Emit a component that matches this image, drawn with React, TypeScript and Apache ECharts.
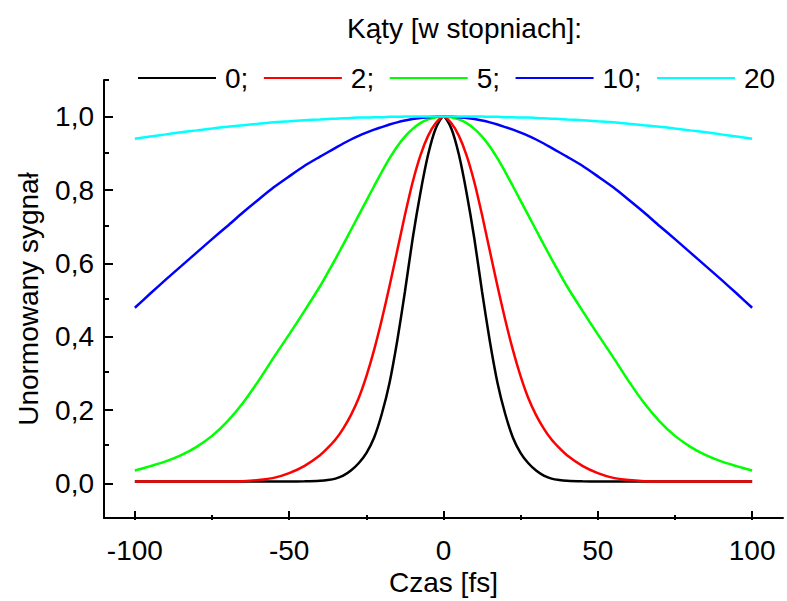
import React, { useEffect, useRef } from "react";
import * as echarts from "echarts";

const times = [-100, -95, -90, -85, -80, -75, -70, -65, -60, -55, -50, -45,
  -40, -37.5, -35, -32.5, -30, -27.5, -25, -22.5, -20, -17.5, -15, -12.5, -10, -7.5, -5, -2.5, 0,
  2.5, 5, 7.5, 10, 12.5, 15, 17.5, 20, 22.5, 25, 27.5, 30, 32.5, 35, 37.5, 40,
  45, 50, 55, 60, 65, 70, 75, 80, 85, 90, 95, 100];

const angle0 = [0, 0, 0, 0, 0, 0, 0, 0, 0, 0, 0, 0.0005,
  0.002, 0.004, 0.008, 0.016, 0.03, 0.05, 0.078, 0.12, 0.185, 0.27, 0.385, 0.52, 0.665, 0.79, 0.895, 0.968, 1,
  0.968, 0.895, 0.79, 0.665, 0.52, 0.385, 0.27, 0.185, 0.12, 0.078, 0.05, 0.03, 0.016, 0.008, 0.004, 0.002,
  0.0005, 0, 0, 0, 0, 0, 0, 0, 0, 0, 0, 0];

const angle2 = [0, 0, 0, 0, 0, 0, 0, 0.001, 0.004, 0.01, 0.023, 0.043,
  0.072, 0.092, 0.115, 0.145, 0.182, 0.228, 0.288, 0.36, 0.443, 0.535, 0.632, 0.73, 0.82, 0.893, 0.947, 0.982, 1,
  0.982, 0.947, 0.893, 0.82, 0.73, 0.632, 0.535, 0.443, 0.36, 0.288, 0.228, 0.182, 0.145, 0.115, 0.092, 0.072,
  0.043, 0.023, 0.01, 0.004, 0.001, 0, 0, 0, 0, 0, 0, 0];

const angle5 = [0.03, 0.042, 0.055, 0.072, 0.095, 0.125, 0.165, 0.215, 0.275, 0.34, 0.403, 0.468,
  0.535, 0.572, 0.61, 0.649, 0.689, 0.729, 0.769, 0.809, 0.848, 0.885, 0.918, 0.945, 0.966, 0.982, 0.992, 0.998, 1,
  0.998, 0.992, 0.982, 0.966, 0.945, 0.918, 0.885, 0.848, 0.809, 0.769, 0.729, 0.689, 0.649, 0.61, 0.572, 0.535,
  0.468, 0.403, 0.34, 0.275, 0.215, 0.165, 0.125, 0.095, 0.072, 0.055, 0.042, 0.03];

const angle10 = [0.476, 0.515, 0.553, 0.59, 0.627, 0.664, 0.7, 0.737, 0.772, 0.806, 0.836, 0.865,
  0.89, 0.902, 0.914, 0.926, 0.937, 0.947, 0.956, 0.964, 0.971, 0.978, 0.984, 0.989, 0.993, 0.996, 0.998, 1, 1,
  1, 0.998, 0.996, 0.993, 0.989, 0.984, 0.978, 0.971, 0.964, 0.956, 0.947, 0.937, 0.926, 0.914, 0.902, 0.89,
  0.865, 0.836, 0.806, 0.772, 0.737, 0.7, 0.664, 0.627, 0.59, 0.553, 0.515, 0.476];

const angle20 = [0.939, 0.945, 0.951, 0.957, 0.962, 0.967, 0.972, 0.976, 0.98, 0.984, 0.987, 0.99,
  0.992, 0.993, 0.994, 0.995, 0.996, 0.997, 0.997, 0.998, 0.998, 0.999, 0.999, 1, 1, 1, 1, 1, 1,
  1, 1, 1, 1, 1, 0.999, 0.999, 0.998, 0.998, 0.997, 0.997, 0.996, 0.995, 0.994, 0.993, 0.992,
  0.99, 0.987, 0.984, 0.98, 0.976, 0.972, 0.967, 0.962, 0.957, 0.951, 0.945, 0.939];

const seriesNames = ["0", "2", "5", "10", "20"];
const seriesValues = [angle0, angle2, angle5, angle10, angle20];
const seriesColors = ["#000000", "#ff0000", "#00ff00", "#0000ff", "#00ffff"];

const xTitle = "Czas [fs]";
const yTitle = "Unormowany sygnał";
const legendTitle = "Kąty [w stopniach]:";

const FONT = "'Liberation Sans', Arial, Helvetica, sans-serif";

export default function App() {
  const ref = useRef<HTMLDivElement>(null);

  useEffect(() => {
    if (!ref.current) return;
    const chart = echarts.init(ref.current, null, { renderer: "svg" });

    const L = 104, R = 4, T = 80, B = 81;
    const W = 787 - L - R;
    const Hh = 601 - T - B;
    const dx = (W * 10) / 220;
    const dy = (Hh * 0.1) / 1.2;

    const black = "#000";
    const fs = 28;

    const option: any = {
      animation: false,
      backgroundColor: "#fff",
      textStyle: { fontFamily: FONT },
      title: {
        text: legendTitle,
        left: 347,
        top: 14,
        padding: 0,
        textStyle: { fontFamily: FONT, fontSize: fs, fontWeight: "normal", color: black },
      },
      legend: {
        left: 138,
        top: 64,
        width: 900,
        padding: 0,
        icon: "rect",
        itemWidth: 78,
        itemHeight: 2,
        itemGap: 15.5,
        formatter: (n: string) => (n === "20" ? n : n + ";"),
        textStyle: { fontFamily: FONT, fontSize: fs, color: black, padding: [0, 0, 0, 4] },
      },
      grid: [
        { left: L, right: R, top: T, bottom: B },
        { left: L + dx, right: R + dx, top: T, bottom: B },
        { left: L, right: R, top: T + dy, bottom: B + dy },
      ],
      xAxis: [
        {
          gridIndex: 0, type: "value", min: -110, max: 110,
          axisLine: { onZero: false, lineStyle: { color: black, width: 2 } },
          axisTick: { show: false }, axisLabel: { show: false }, splitLine: { show: false },
          name: xTitle, nameLocation: "middle", nameGap: 50,
          nameTextStyle: { fontFamily: FONT, fontSize: fs, color: black },
        },
        {
          gridIndex: 1, type: "value", min: -100, max: 100, interval: 50,
          axisLine: { show: false, onZero: false },
          axisTick: { show: true, inside: true, length: 9, lineStyle: { color: black, width: 2 } },
          minorTick: { show: true, splitNumber: 2, length: 5, lineStyle: { color: black, width: 2 } },
          axisLabel: { fontFamily: FONT, fontSize: fs, color: black, margin: 16 },
          splitLine: { show: false }, minorSplitLine: { show: false },
        },
        { gridIndex: 2, type: "value", show: false, min: 0, max: 1 },
      ],
      yAxis: [
        {
          gridIndex: 0, type: "value", min: -0.1, max: 1.1, interval: 0.2,
          axisLine: { show: true, onZero: false, lineStyle: { color: black, width: 2 } },
          axisTick: { show: true, inside: true, length: 5, lineStyle: { color: black, width: 2 } },
          axisLabel: { show: false }, splitLine: { show: false },
          name: yTitle, nameLocation: "middle", nameGap: 62, nameRotate: 90,
          nameTextStyle: { fontFamily: FONT, fontSize: fs, color: black },
        },
        { gridIndex: 1, type: "value", show: false, min: 0, max: 1 },
        {
          gridIndex: 2, type: "value", min: 0, max: 1, interval: 0.2,
          axisLine: { show: false, onZero: false },
          axisTick: { show: true, inside: true, length: 9, lineStyle: { color: black, width: 2 } },
          axisLabel: {
            fontFamily: FONT, fontSize: fs, color: black, margin: 10,
            formatter: (v: number) => v.toFixed(1).replace(".", ","),
          },
          splitLine: { show: false },
        },
      ],
      series: seriesNames.map((name, k) => ({
        name,
        type: "line",
        xAxisIndex: 0,
        yAxisIndex: 0,
        data: times.map((t, i) => [t, seriesValues[k][i]]),
        showSymbol: false,
        symbol: "none",
        smooth: 0.25,
        lineStyle: { color: seriesColors[k], width: 2.5 },
        itemStyle: { color: seriesColors[k] },
        clip: false,
      })),
    };

    chart.setOption(option);
    return () => chart.dispose();
  }, []);

  return (
    <div
      ref={ref}
      style={{ position: "fixed", left: 0, top: 0, width: 787, height: 601, background: "#fff" }}
    />
  );
}
